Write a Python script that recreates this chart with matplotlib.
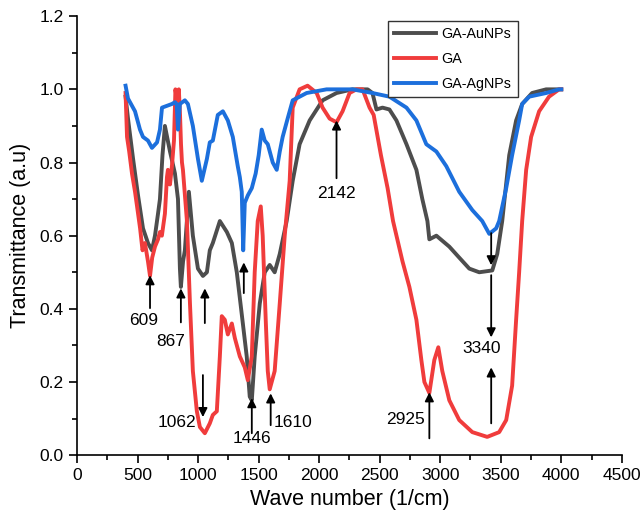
import matplotlib
matplotlib.use("Agg")
import matplotlib.pyplot as plt
from matplotlib.ticker import MultipleLocator

plt.rcParams['font.family'] = ['Liberation Sans', 'DejaVu Sans']

# GA-AuNPs
wn_au = [400, 420, 462, 503, 544, 585, 618, 643, 668, 684, 705, 725, 767, 808, 833, 849, 857,
         875, 890, 923, 956, 998, 1039, 1072, 1096, 1121, 1179, 1237, 1278, 1319, 1344, 1369,
         1401, 1426, 1443, 1467, 1509, 1550, 1591, 1632, 1674, 1731, 1781, 1838, 1921, 2028,
         2143, 2275, 2400, 2440, 2473, 2523, 2580, 2638, 2721, 2803, 2852, 2894, 2910, 2968,
         3075, 3157, 3240, 3322, 3430, 3471, 3512, 3570, 3627, 3677, 3759, 3875, 4000]
t_au = [0.98, 0.92, 0.81, 0.71, 0.62, 0.58, 0.56, 0.60, 0.66, 0.70, 0.82, 0.90, 0.83, 0.77, 0.70,
        0.51, 0.46, 0.53, 0.56, 0.72, 0.60, 0.51, 0.49, 0.50, 0.56, 0.58, 0.64, 0.61, 0.58, 0.50,
        0.43, 0.36, 0.27, 0.16, 0.15, 0.27, 0.415, 0.50, 0.52, 0.50, 0.55, 0.64, 0.75, 0.85,
        0.915, 0.97, 0.99, 1.00, 1.00, 0.99, 0.945, 0.95, 0.945, 0.915, 0.85, 0.78, 0.70, 0.64,
        0.59, 0.60, 0.57, 0.54, 0.51, 0.50, 0.505, 0.55, 0.64, 0.82, 0.915, 0.96, 0.99, 1.00, 1.00]

# GA
wn_ga = [400, 412, 430, 453, 478, 495, 520, 540, 560, 585, 602, 620, 643, 668, 684, 700, 725,
         742, 750, 767, 783, 800, 812, 825, 840, 850, 858, 866, 874, 907, 932, 956, 989, 1014,
         1055, 1096, 1121, 1154, 1179, 1195, 1220, 1245, 1278, 1303, 1344, 1385, 1410, 1443,
         1467, 1492, 1517, 1533, 1558, 1575, 1591, 1632, 1674, 1715, 1756, 1781, 1838, 1904,
         1979, 2028, 2086, 2143, 2193, 2251, 2308, 2358, 2416, 2450, 2510, 2565, 2610, 2688,
         2745, 2803, 2844, 2869, 2910, 2951, 2984, 3017, 3075, 3157, 3265, 3388, 3487, 3545,
         3594, 3627, 3652, 3677, 3710, 3751, 3817, 3899, 3982, 4000]
t_ga = [0.99, 0.87, 0.83, 0.77, 0.72, 0.68, 0.62, 0.56, 0.58, 0.53, 0.49, 0.54, 0.57, 0.59, 0.61,
        0.60, 0.66, 0.76, 0.78, 0.74, 0.79, 0.86, 1.00, 0.97, 1.00, 0.93, 0.85, 0.80, 0.78, 0.64,
        0.415, 0.23, 0.12, 0.077, 0.06, 0.087, 0.11, 0.12, 0.27, 0.38, 0.37, 0.33, 0.36, 0.32,
        0.27, 0.24, 0.205, 0.27, 0.50, 0.64, 0.68, 0.60, 0.37, 0.23, 0.18, 0.23, 0.415, 0.60,
        0.75, 0.95, 1.00, 1.01, 0.99, 0.95, 0.92, 0.91, 0.94, 0.99, 1.00, 1.00, 0.95, 0.93,
        0.82, 0.73, 0.64, 0.53, 0.46, 0.37, 0.26, 0.20, 0.17, 0.26, 0.295, 0.23, 0.15, 0.096,
        0.063, 0.05, 0.063, 0.096, 0.19, 0.37, 0.50, 0.64, 0.78, 0.87, 0.94, 0.98, 1.00, 1.00]

# GA-AgNPs
wn_ag = [400, 420, 478, 519, 544, 585, 618, 660, 684, 701, 742, 783, 808, 822, 833, 849, 890,
         915, 956, 998, 1030, 1072, 1096, 1121, 1162, 1204, 1245, 1286, 1327, 1344, 1360, 1372,
         1385, 1410, 1443, 1475, 1500, 1525, 1550, 1575, 1616, 1649, 1674, 1698, 1739, 1781,
         1896, 2061, 2275, 2440, 2580, 2721, 2803, 2885, 2968, 3050, 3157, 3265, 3347, 3405,
         3462, 3487, 3545, 3594, 3652, 3677, 3735, 3875, 3982, 4000]
t_ag = [1.01, 0.975, 0.94, 0.89, 0.87, 0.86, 0.84, 0.855, 0.89, 0.95, 0.955, 0.96, 0.965, 0.96,
        0.89, 0.96, 0.97, 0.96, 0.90, 0.81, 0.75, 0.81, 0.855, 0.86, 0.93, 0.94, 0.915, 0.87,
        0.79, 0.76, 0.72, 0.56, 0.69, 0.71, 0.73, 0.77, 0.82, 0.89, 0.86, 0.85, 0.80, 0.78,
        0.83, 0.87, 0.92, 0.97, 0.99, 1.00, 1.00, 0.99, 0.98, 0.95, 0.915, 0.85, 0.83, 0.79,
        0.72, 0.67, 0.64, 0.605, 0.62, 0.64, 0.73, 0.82, 0.915, 0.96, 0.98, 0.99, 1.00, 1.00]

# peak labels: (text, x, y, horizontal alignment)
peak_labels = [("609", 552, 0.369, 'center'), ("867", 775, 0.311, 'center'),
               ("1062", 985, 0.09, 'right'), ("1446", 1443, 0.046, 'center'),
               ("1610", 1620, 0.09, 'left'), ("2142", 2143, 0.716, 'center'),
               ("2925", 2875, 0.098, 'right'), ("3340", 3339, 0.292, 'center')]
# arrows: (x, tail y, tip y)
arrows = [(602, 0.402, 0.492), (857, 0.363, 0.456), (1055, 0.361, 0.456),
          (1039, 0.219, 0.104), (1377, 0.443, 0.527), (1443, 0.06, 0.156),
          (1599, 0.082, 0.169), (2143, 0.757, 0.915), (2910, 0.046, 0.172),
          (3421, 0.607, 0.519), (3421, 0.492, 0.322), (3421, 0.087, 0.24)]

fig = plt.figure(figsize=(6.43, 5.22), dpi=100)
ax = fig.add_axes([0.120, 0.128, 0.847, 0.841])

ax.plot(wn_au, t_au, color='#4d4d4d', lw=2.8, label='GA-AuNPs')
ax.plot(wn_ga, t_ga, color='#f03c3c', lw=2.8, label='GA')
ax.plot(wn_ag, t_ag, color='#1c6fdc', lw=2.8, label='GA-AgNPs')

for x, y0, y1 in arrows:
    ax.annotate('', xy=(x, y1), xytext=(x, y0),
                arrowprops=dict(arrowstyle='-|>', color='k', lw=1.3,
                                mutation_scale=13, shrinkA=0, shrinkB=0))
for txt, x, y, ha in peak_labels:
    ax.text(x, y, txt, fontsize=12.5, ha=ha, va='center')

ax.set_xlim(0, 4500)
ax.set_ylim(0, 1.2)
ax.xaxis.set_major_locator(MultipleLocator(500))
ax.xaxis.set_minor_locator(MultipleLocator(250))
ax.yaxis.set_major_locator(MultipleLocator(0.2))
ax.yaxis.set_minor_locator(MultipleLocator(0.1))
ax.yaxis.set_major_formatter(plt.FormatStrFormatter('%.1f'))
ax.tick_params(which='major', direction='out', length=6, width=1.2, labelsize=12.5)
ax.tick_params(which='minor', direction='out', length=3.5, width=1.2)
ax.spines['top'].set_visible(False)
ax.spines['right'].set_visible(False)
ax.spines['left'].set_linewidth(1.2)
ax.spines['bottom'].set_linewidth(1.2)

ax.set_xlabel('Wave number (1/cm)', fontsize=15.5, labelpad=4)
ax.set_ylabel('Transmittance (a.u)', fontsize=15.5, labelpad=6)

leg = ax.legend(loc='upper right', bbox_to_anchor=(0.822, 1.006), fontsize=10.3,
                handlelength=2.9, handletextpad=0.4, labelspacing=0.75,
                fancybox=False, framealpha=1, edgecolor='#333333', borderpad=0.45)
leg.get_frame().set_linewidth(1.0)

fig.savefig('out.png', dpi=100)
